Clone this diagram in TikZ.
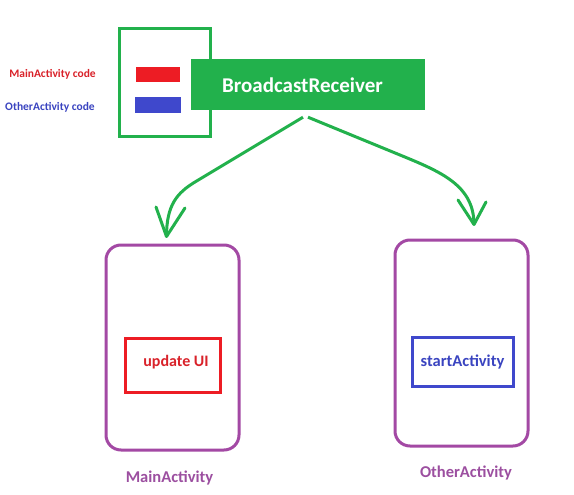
\documentclass[tikz,border=0pt]{standalone}
\usepackage{fontspec}
\setmainfont{Carlito}
\definecolor{pgreen}{HTML}{22B14C}
\definecolor{pred}{HTML}{ED1C24}
\definecolor{pblue}{HTML}{3F48CC}
\definecolor{ppurple}{HTML}{A349A4}
\definecolor{tred}{HTML}{D9222A}
\definecolor{tblue}{HTML}{3A44C0}
\definecolor{tpurple}{HTML}{9C4FA0}
\tikzset{
  box/.style={draw, line width=3pt, inner sep=0pt, fill=none},
  bar/.style={inner sep=0pt},
  lbl/.style={font=\bfseries, inner sep=0pt},
  conn/.style={draw=pgreen, line width=3pt},
  barb/.style={draw=pgreen, line width=3pt, line cap=round, line join=round},
}
\begin{document}
\begin{tikzpicture}[x=1pt,y=-1pt]
\useasboundingbox[fill=white] (0,0) rectangle (574,495);
% code holder
\node[box, draw=pgreen, minimum width=91pt, minimum height=108pt] (holder) at (164.5,83) {};
\node[bar, fill=pred, minimum width=44pt, minimum height=15pt] (redbar) at (158,74.5) {};
\node[bar, fill=pblue, minimum width=46pt, minimum height=16pt] (bluebar) at (158,105) {};
\node[bar, fill=pgreen, minimum width=234pt, minimum height=51pt] (br) at (308,84.5) {};
\node[lbl, text=white, font=\bfseries\fontsize{21}{24}\selectfont] (brt) at (302.5,85) {BroadcastReceiver};
\node[lbl, text=tred, font=\bfseries\fontsize{11.5}{13}\selectfont] (maincode) at (52.5,74) {MainActivity code};
\node[lbl, text=tblue, font=\bfseries\fontsize{11.5}{13}\selectfont] (othercode) at (50,107) {OtherActivity code};
% activities
\node[box, draw=ppurple, rounded corners=15pt, minimum width=133pt, minimum height=205pt] (main) at (172.5,347.5) {};
\node[box, draw=ppurple, rounded corners=15pt, minimum width=133pt, minimum height=206pt] (other) at (461.5,343) {};
\node[box, draw=pred, minimum width=95pt, minimum height=54pt] (upd) at (172.5,365) {};
\node[lbl, text=tred, font=\bfseries\fontsize{16}{19}\selectfont] (updt) at (176,362) {update UI};
\node[box, draw=pblue, minimum width=101pt, minimum height=49pt] (start) at (462.5,361.5) {};
\node[lbl, text=tblue, font=\bfseries\fontsize{16.5}{19}\selectfont] (startt) at (462.5,362) {startActivity};
\node[lbl, text=tpurple, font=\bfseries\fontsize{16.5}{19}\selectfont] (mainlbl) at (169.5,478) {MainActivity};
\node[lbl, text=tpurple, font=\bfseries\fontsize{16.5}{19}\selectfont] (otherlbl) at (466,473) {OtherActivity};
% connector end points
\coordinate (sL) at ([xshift=-5pt,yshift=-7pt]br.south);
\coordinate (sR) at ([xshift=0pt,yshift=-7pt]br.south);
\coordinate (tL) at ([xshift=-6pt,yshift=7pt]main.north);
\coordinate (tR) at ([xshift=12.5pt,yshift=14pt]other.north);
% connectors
\draw[conn] (sL) -- (195,182) .. controls (177,193) and (166.5,205) .. (tL);
\draw[barb] (156,207) -- (tL) -- (185,208);
\draw[conn] (sR) -- (400,155) .. controls (440,171.5) and (474,185) .. (tR);
\draw[barb] (458,200) -- (tR) -- (486,202);
\end{tikzpicture}
\end{document}
